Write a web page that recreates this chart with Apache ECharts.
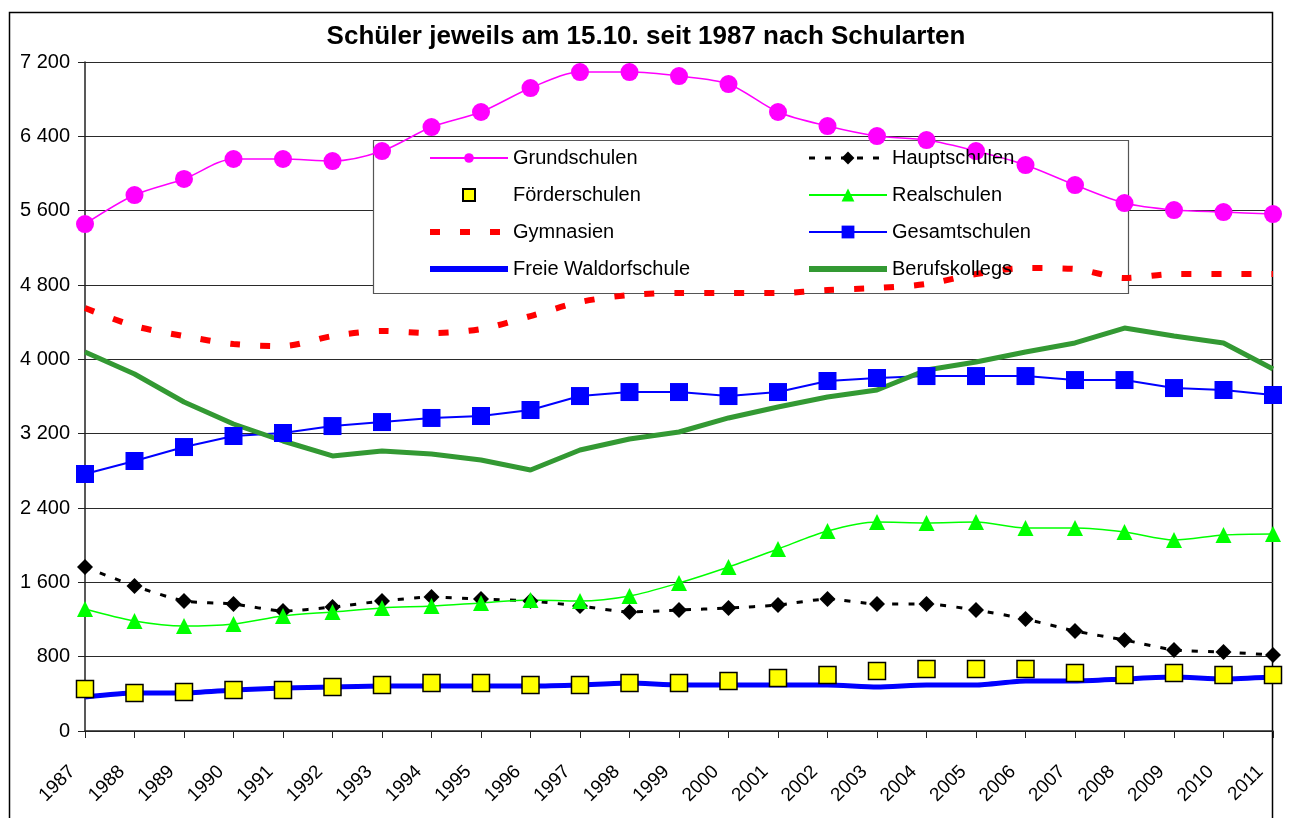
<!DOCTYPE html>
<html>
<head>
<meta charset="utf-8">
<script src="https://cdn.jsdelivr.net/npm/echarts/dist/echarts.min.js"></script>
<style>
html, body { margin: 0; padding: 0; background: #ffffff; }
#chart { width: 1292px; height: 818px; }
</style>
</head>
<body>
<div id="chart"></div>
<script>
var years = ['1987', '1988', '1989', '1990', '1991', '1992', '1993', '1994', '1995', '1996', '1997', '1998', '1999',
    '2000', '2001', '2002', '2003', '2004', '2005', '2006', '2007', '2008', '2009', '2010', '2011'];

var grundschulen = [5456, 5768, 5941, 6156, 6156, 6134, 6242, 6500, 6662, 6920, 7092, 7092, 7049,
    6963, 6662, 6511, 6403, 6360, 6242, 6091, 5876, 5682, 5607, 5585, 5564];
var hauptschulen = [1765, 1560, 1399, 1367, 1291, 1334, 1399, 1442, 1420, 1399, 1345, 1281, 1302,
    1324, 1356, 1420, 1367, 1367, 1302, 1205, 1076, 979, 872, 850, 818];
var foerderschulen = [452, 409, 420, 441, 441, 474, 495, 517, 517, 495, 495, 517, 517,
    538, 570, 603, 646, 667, 667, 667, 624, 603, 624, 603, 603];
var realschulen = [1313, 1184, 1130, 1152, 1238, 1281, 1324, 1345, 1378, 1410, 1399, 1453, 1593,
    1765, 1959, 2152, 2249, 2239, 2249, 2185, 2185, 2142, 2056, 2109, 2120];
var gymnasien = [4552, 4359, 4251, 4165, 4143, 4251, 4305, 4283, 4326, 4466, 4617, 4692, 4714,
    4714, 4714, 4746, 4768, 4811, 4918, 4983, 4972, 4875, 4918, 4918, 4918];
var gesamtschulen = [2766, 2906, 3056, 3175, 3207, 3282, 3325, 3369, 3390, 3455, 3605, 3648, 3648,
    3605, 3648, 3767, 3799, 3820, 3820, 3820, 3777, 3777, 3691, 3670, 3616];
var waldorf = [366, 409, 409, 441, 463, 474, 484, 484, 484, 484, 495, 517, 495,
    495, 495, 495, 474, 495, 495, 538, 538, 560, 581, 560, 581];
var berufskollegs = [4079, 3842, 3541, 3304, 3121, 2960, 3013, 2981, 2917, 2809, 3024, 3143, 3218,
    3369, 3487, 3595, 3670, 3885, 3971, 4079, 4176, 4337, 4251, 4176, 3896];

var fontName = "'Liberation Sans', Arial, sans-serif";

var chart = echarts.init(document.getElementById('chart'));

var legendText = {
    fontSize: 20,
    color: '#000000',
    fontFamily: fontName
};

// marker hidden in the legend for series drawn without markers
var noMarker = { opacity: 0 };

var option = {
    backgroundColor: '#ffffff',
    animation: false,
    title: {
        text: 'Schüler jeweils am 15.10. seit 1987 nach Schularten',
        left: 'center',
        top: 19,
        textStyle: {
            fontSize: 26,
            fontWeight: 'bold',
            color: '#000000',
            fontFamily: fontName
        }
    },
    graphic: [
        {
            type: 'rect',
            z: -10,
            shape: { x: 9.5, y: 12.5, width: 1263, height: 830 },
            style: { fill: 'none', stroke: '#000000', lineWidth: 1.5 }
        },
        {
            type: 'rect',
            z: 1,
            shape: { x: 373.5, y: 140.5, width: 755, height: 153 },
            style: { fill: '#ffffff', stroke: '#555555', lineWidth: 1.2 }
        }
    ],
    legend: [
        {
            orient: 'vertical',
            left: 427,
            top: 148,
            padding: 0,
            itemWidth: 78,
            itemHeight: 12,
            itemGap: 17,
            selectedMode: false,
            textStyle: legendText,
            data: [
                { name: 'Grundschulen' },
                { name: 'Förderschulen', icon: 'path://M0,0L10,0L10,10L0,10Z' },
                { name: 'Gymnasien', itemStyle: noMarker, lineStyle: { width: 6 } },
                { name: 'Freie Waldorfschule', itemStyle: noMarker, lineStyle: { width: 6 } }
            ]
        },
        {
            orient: 'vertical',
            left: 806,
            top: 148,
            padding: 0,
            itemWidth: 78,
            itemHeight: 16,
            itemGap: 17,
            selectedMode: false,
            textStyle: legendText,
            data: [
                { name: 'Hauptschulen', lineStyle: { width: 3 } },
                { name: 'Realschulen' },
                { name: 'Gesamtschulen' },
                { name: 'Berufskollegs', itemStyle: noMarker, lineStyle: { width: 6 } }
            ]
        }
    ],
    grid: {
        left: 85,
        right: 19,
        top: 62,
        bottom: 87,
        containLabel: false
    },
    xAxis: {
        type: 'category',
        data: years,
        boundaryGap: false,
        axisLine: { lineStyle: { color: '#222222', width: 1.5 } },
        axisTick: { show: true, length: 7, lineStyle: { color: '#222222' } },
        axisLabel: {
            rotate: 45,
            interval: 0,
            margin: 25,
            padding: [0, 18, 0, 0],
            fontSize: 19,
            color: '#000000',
            fontFamily: fontName
        },
        splitLine: { show: false }
    },
    yAxis: {
        type: 'value',
        min: 0,
        max: 7200,
        interval: 800,
        axisLine: { show: true, lineStyle: { color: '#222222', width: 1.5 } },
        axisTick: { show: true, length: 7, lineStyle: { color: '#222222' } },
        axisLabel: {
            margin: 15,
            fontSize: 20,
            color: '#000000',
            fontFamily: fontName,
            formatter: function (v) {
                return String(v).replace(/\B(?=(\d{3})+(?!\d))/g, ' ');
            }
        },
        splitLine: { show: true, lineStyle: { color: '#2a2a2a', width: 1 } }
    },
    series: [
        {
            name: 'Grundschulen',
            type: 'line',
            smooth: 0.3,
            data: grundschulen,
            symbol: 'circle',
            symbolSize: 18,
            itemStyle: { color: '#ff00ff' },
            lineStyle: { color: '#ff00ff', width: 1.5 }
        },
        {
            name: 'Hauptschulen',
            type: 'line',
            smooth: 0.2,
            data: hauptschulen,
            symbol: 'diamond',
            symbolSize: 16,
            itemStyle: { color: '#000000' },
            lineStyle: { color: '#000000', width: 3, type: [6, 10] }
        },
        {
            name: 'Förderschulen',
            type: 'scatter',
            data: foerderschulen,
            symbol: 'rect',
            symbolSize: 17,
            z: 6,
            itemStyle: { color: '#ffff00', borderColor: '#000000', borderWidth: 1.5, opacity: 1 }
        },
        {
            name: 'Realschulen',
            type: 'line',
            smooth: 0.3,
            data: realschulen,
            symbol: 'triangle',
            symbolSize: 16,
            itemStyle: { color: '#00ff00' },
            lineStyle: { color: '#00ff00', width: 1.5 }
        },
        {
            name: 'Gymnasien',
            type: 'line',
            smooth: 0.3,
            data: gymnasien,
            symbol: 'none',
            itemStyle: { color: '#ff0000' },
            lineStyle: { color: '#ff0000', width: 6, type: [10, 20] }
        },
        {
            name: 'Gesamtschulen',
            type: 'line',
            data: gesamtschulen,
            symbol: 'rect',
            symbolSize: 18,
            itemStyle: { color: '#0000ff' },
            lineStyle: { color: '#0000ff', width: 2 }
        },
        {
            name: 'Freie Waldorfschule',
            type: 'line',
            smooth: 0.2,
            data: waldorf,
            symbol: 'none',
            itemStyle: { color: '#0000ff' },
            lineStyle: { color: '#0000ff', width: 5 }
        },
        {
            name: 'Berufskollegs',
            type: 'line',
            data: berufskollegs,
            symbol: 'none',
            itemStyle: { color: '#339933' },
            lineStyle: { color: '#339933', width: 5 }
        }
    ]
};

chart.setOption(option);
</script>
</body>
</html>
